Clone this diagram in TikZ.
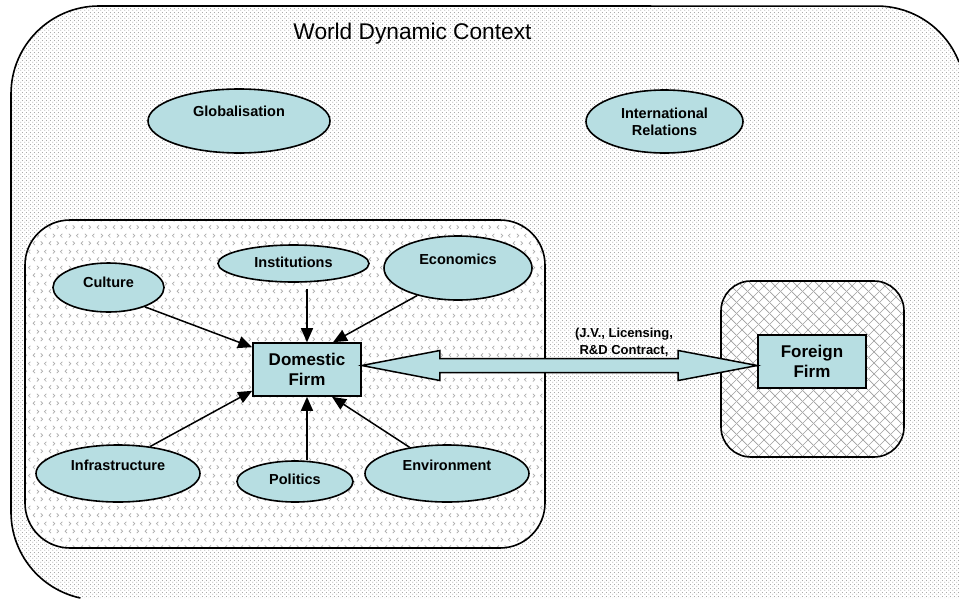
\documentclass[tikz,border=0pt]{standalone}
\usepackage{fontspec}
\setmainfont{Liberation Sans}
\usetikzlibrary{calc, arrows.meta, shapes.geometric, patterns.meta}

\definecolor{factorblue}{HTML}{B7DEE2}

% fills of the three regions
\tikzdeclarepattern{
  name=finedots, type=uncolored,
  bounding box={(0pt,0pt) and (4pt,4pt)},
  tile size={(4pt,4pt)},
  code={
    \fill (1pt,1pt) circle (0.6pt);
    \fill (3pt,3pt) circle (0.6pt);
  }
}
\tikzdeclarepattern{
  name=divots, type=uncolored,
  bounding box={(0pt,0pt) and (16pt,16pt)},
  tile size={(16pt,16pt)},
  code={
    \draw[line width=0.7pt] (3.2pt,2pt) -- (1.2pt,4pt) -- (3.2pt,6pt);
    \draw[line width=0.7pt] (9.2pt,2pt) -- (11.2pt,4pt) -- (9.2pt,6pt);
    \draw[line width=0.7pt] (5.2pt,10pt) -- (7.2pt,12pt) -- (5.2pt,14pt);
    \draw[line width=0.7pt] (15.2pt,10pt) -- (13.2pt,12pt) -- (15.2pt,14pt);
  }
}
\tikzdeclarepattern{
  name=diagrid, type=uncolored,
  bounding box={(0pt,0pt) and (11pt,11pt)},
  tile size={(11pt,11pt)},
  code={
    \draw[line width=0.7pt] (-1pt,-1pt) -- (12pt,12pt);
    \draw[line width=0.7pt] (-1pt,12pt) -- (12pt,-1pt);
  }
}

\begin{document}
\begin{tikzpicture}[x=1pt, y=-1pt,
    frame/.style={line width=1.6pt},
    factor/.style={ellipse, draw, line width=1.6pt, fill=factorblue, inner sep=0pt,
      align=center, font=\fontsize{14.5}{17}\selectfont\bfseries},
    firm/.style={rectangle, draw, line width=1.6pt, fill=factorblue, inner sep=0pt,
      minimum width=108pt, minimum height=53pt, align=center,
      font=\fontsize{17}{20}\selectfont\bfseries},
    influence/.style={line width=1.5pt, -{Triangle[length=14pt,width=12pt]}},
    bigarrow/.style={line width=1.5pt, fill=factorblue, line join=miter}]
  \useasboundingbox (0,0) rectangle (959,598);

  % world region, cut by the page edge on the right and below
  \fill[white] (959,62.1) arc[start angle=21.3, end angle=90, radius=88pt] -- (99,6)
    arc[start angle=90, end angle=180, radius=88pt] -- (11,512)
    arc[start angle=180, end angle=257.8, radius=88pt] -- (959,598) -- cycle;
  \fill[pattern=finedots, pattern color=gray!90] (959,62.1) arc[start angle=21.3, end angle=90, radius=88pt] -- (99,6)
    arc[start angle=90, end angle=180, radius=88pt] -- (11,512)
    arc[start angle=180, end angle=257.8, radius=88pt] -- (959,598) -- cycle;
  \draw[frame] (959,62.1) arc[start angle=21.3, end angle=90, radius=88pt] -- (99,6)
    arc[start angle=90, end angle=180, radius=88pt] -- (11,512)
    arc[start angle=180, end angle=257.8, radius=88pt];

  % domestic and foreign regions
  \draw[frame, rounded corners=45pt, preaction={fill=white}, pattern=divots, pattern color=gray!65] (25,220) rectangle (545,548);
  \draw[frame, rounded corners=30pt, preaction={fill=white}, pattern=diagrid, pattern color=gray!75] (721,281) rectangle (904,457);

  \node[anchor=base, font=\fontsize{22.7}{27}\selectfont] (title) at (412.5,39) {World Dynamic Context};

  \node[factor, minimum width=182pt, minimum height=64pt, text depth=19pt] (glob) at (239,121) {Globalisation};
  \node[factor, minimum width=157pt, minimum height=63pt] (intl) at (664.5,121.5) {International\\Relations};

  \node[factor, minimum width=111pt, minimum height=49pt, text depth=10pt] (culture) at (108.5,287.5) {Culture};
  \node[factor, minimum width=151pt, minimum height=37pt, text depth=2pt] (inst) at (293.5,263.5) {Institutions};
  \node[factor, minimum width=148pt, minimum height=64pt, text depth=17pt] (econ) at (458,268) {Economics};
  \node[factor, minimum width=164pt, minimum height=57pt, text depth=16pt] (infra) at (118,473.5) {Infrastructure};
  \node[factor, minimum width=116pt, minimum height=41pt, text depth=4.5pt] (pol) at (295,481.5) {Politics};
  \node[factor, minimum width=164pt, minimum height=57pt, text depth=16pt] (env) at (447,473.5) {Environment};

  \node[firm] (dom) at (307,369.5) {Domestic\\Firm};
  \node[firm] (for) at (812,361.5) {Foreign\\Firm};

  % factors acting on the domestic firm
  \draw[influence] (culture.332) -- ([yshift=-5pt]dom.north west);
  \draw[influence, shorten <=6pt] (inst.south -| dom.north) -- (dom.north);
  \draw[influence] (econ.214) -- ([xshift=26pt]dom.north);
  \draw[influence] (infra.40) -- ([yshift=6pt]dom.south west);
  \draw[influence] (pol.north -| dom.south) -- (dom.south);
  \draw[influence] (env.145) -- ([xshift=25pt]dom.south);

  % two-way link between the firms
  \coordinate (mid) at ($(dom.east)!.5!(for.west)$);
  \draw[bigarrow] (dom.east |- mid) -- ++(78,-15) -- ++(0,8) -- ($(for.west |- mid)+(-79,-7)$)
    -- ++(0,-8) -- (for.west |- mid) -- ++(-79,15) -- ++(0,-8) -- ($(dom.east |- mid)+(78,7)$)
    -- ++(0,8) -- cycle;
  \node[align=center, font=\fontsize{13}{17}\selectfont\bfseries] (deal) at (624,342) {(J.V., Licensing,\\R\&D Contract,};
\end{tikzpicture}
\end{document}
